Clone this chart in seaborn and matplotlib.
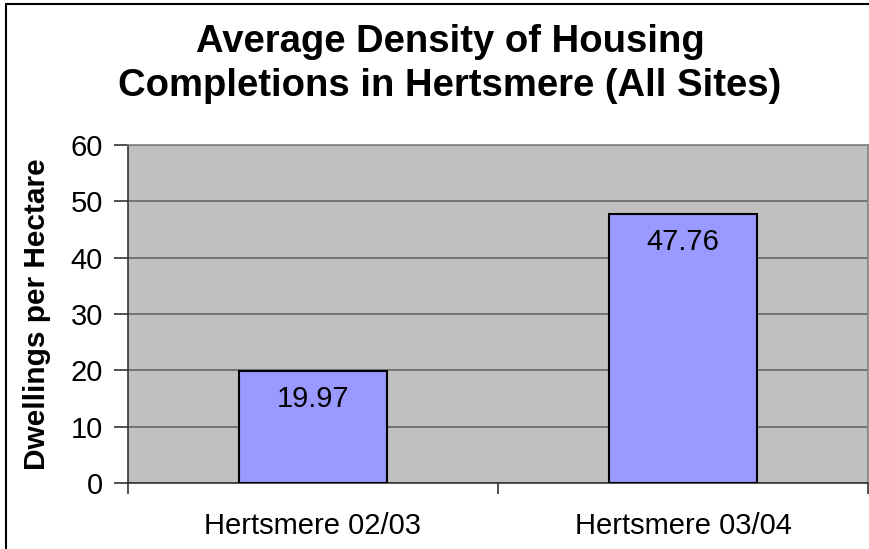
import matplotlib
matplotlib.use("Agg")
import matplotlib.pyplot as plt
import seaborn as sns
import pandas as pd
from matplotlib.patches import Rectangle

categories = ["Hertsmere 02/03", "Hertsmere 03/04"]
values = [19.97, 47.76]
value_labels = ["19.97", "47.76"]
yticks = [0, 10, 20, 30, 40, 50, 60]

sns.set_theme(style="white")
plt.rcParams['font.family'] = ['Liberation Sans', 'DejaVu Sans']
plt.rcParams['text.color'] = 'black'
plt.rcParams['axes.labelcolor'] = 'black'
plt.rcParams['xtick.color'] = 'black'
plt.rcParams['ytick.color'] = 'black'

df = pd.DataFrame({"cat": categories, "val": values})

fig = plt.figure(figsize=(8.7, 5.49), dpi=100)
ax = fig.add_axes([128/870, 1-483/549, (868-128)/870, (483-145)/549])
ax.set_facecolor("#C0C0C0")

sns.barplot(data=df, x="cat", y="val", color="#9999FF", saturation=1,
            edgecolor="black", linewidth=1.5, width=0.4, ax=ax, zorder=3)

ax.set_xlim(-0.5, 1.5)
ax.set_ylim(0, 60)
ax.set_yticks(yticks)
ax.set_yticklabels([str(t) for t in yticks])
ax.yaxis.grid(True, color="#666666", linewidth=1.2, zorder=0)
ax.set_axisbelow(True)

for s in ["top", "right"]:
    ax.spines[s].set_color("#808080")
    ax.spines[s].set_linewidth(1.2)
for s in ["left", "bottom"]:
    ax.spines[s].set_color("#333333")
    ax.spines[s].set_linewidth(1.2)

ax.tick_params(axis="y", which="major", direction="out", length=10, width=1.2,
               color="#333333", labelcolor="black", labelsize=21, pad=8, left=True)
ax.set_xticks([0, 1])
ax.set_xticklabels(categories)
ax.tick_params(axis="x", which="major", length=0, labelsize=21, pad=21,
               labelcolor="black")
ax.set_xticks([-0.5, 0.5, 1.5], minor=True)
ax.tick_params(axis="x", which="minor", direction="out", length=8, width=1.2,
               color="#333333", bottom=True)

ax.set_xlabel("")
ax.set_ylabel("Dwellings per Hectare", fontsize=21.5, fontweight="bold",
              labelpad=14, color="black")

for i, (v, lab) in enumerate(zip(values, value_labels)):
    ax.annotate(lab, xy=(i, v), xytext=(0, -28), textcoords="offset pixels",
                ha="center", va="center", fontsize=21, color="black", zorder=5)

fig.text(450/870, 1-64/549, "Average Density of Housing\nCompletions in Hertsmere (All Sites)",
         ha="center", va="center", fontsize=27.5, fontweight="bold",
         linespacing=1.28, color="black")

fig.patches.append(Rectangle((6/870, -0.1), 2, 1.1 - 4/549, fill=False,
                             edgecolor="black", linewidth=1.5,
                             transform=fig.transFigure, figure=fig))

fig.savefig("out.png", dpi=100)
